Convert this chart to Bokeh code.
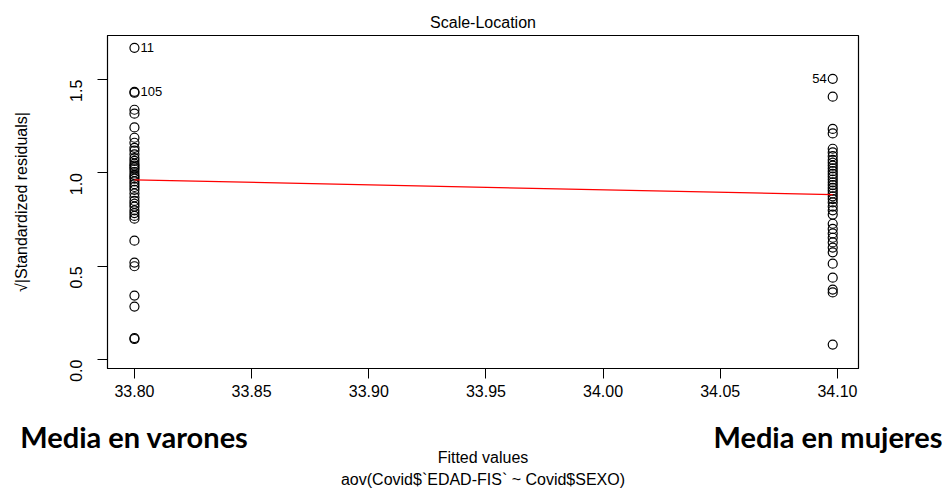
import numpy as np
from bokeh.plotting import figure
from bokeh.models import Range1d, FixedTicker, ColumnDataSource, LinearAxis, Title
from bokeh.core.properties import value
from bokeh.embed import file_html
from bokeh.resources import INLINE

# ---- data ----
fit_men = 33.80
fit_women = 34.098
men_vals = [1.671, 1.435, 1.430, 1.339, 1.318, 1.244, 1.189, 1.162, 1.135, 1.12,
            1.10, 1.08, 1.065, 1.05, 1.04, 1.03, 1.02, 1.005, 0.99, 0.98, 0.97,
            0.955, 0.94, 0.925, 0.91, 0.89, 0.87, 0.85, 0.835, 0.82, 0.80, 0.785,
            0.77, 0.755, 0.637, 0.52, 0.50, 0.343, 0.284, 0.115, 0.11]
women_vals = [1.505, 1.409, 1.236, 1.212, 1.13, 1.11, 1.09, 1.07, 1.055, 1.04,
              1.025, 1.01, 0.995, 0.98, 0.965, 0.95, 0.935, 0.92, 0.905, 0.89,
              0.875, 0.86, 0.842, 0.82, 0.80, 0.777, 0.728, 0.70, 0.676, 0.653,
              0.628, 0.60, 0.575, 0.514, 0.439, 0.375, 0.36, 0.08]
smooth_x = [33.80, 34.098]
smooth_y = [0.963, 0.884]
id_labels = ["11", "105", "54"]
id_x = [33.80, 33.80, 34.098]
id_y = [1.671, 1.435, 1.505]
x_ticks = [33.80, 33.85, 33.90, 33.95, 34.00, 34.05, 34.10]
y_ticks = [0.0, 0.5, 1.0, 1.5]
group_names = ["Media en varones", "Media en mujeres"]
group_pos = [fit_men, fit_women]

FONT = "Liberation Sans"

p = figure(width=942, height=492, output_backend="svg", toolbar_location=None,
           x_range=Range1d(33.7885, 34.109), y_range=Range1d(-0.048, 1.737),
           min_border_left=107, min_border_right=84, min_border_top=35,
           min_border_bottom=124, title="Scale-Location")
p.title.align = "center"
p.title.text_font = FONT
p.title.text_font_size = "16px"
p.title.text_font_style = "normal"
p.title.text_color = "black"
p.title.standoff = 9
p.background_fill_color = "white"
p.border_fill_color = "white"
p.outline_line_color = "black"
p.outline_line_width = 1.2
p.grid.visible = False

for ax in (p.xaxis[0], p.yaxis[0]):
    ax.axis_line_color = "black"
    ax.major_tick_out = 10
    ax.major_tick_in = 0
    ax.minor_tick_line_color = None
    ax.major_label_text_font = FONT
    ax.major_label_text_font_size = "16px"
    ax.major_label_text_color = "black"
    ax.major_tick_line_color = "black"

p.xaxis[0].ticker = FixedTicker(ticks=x_ticks)
p.xaxis[0].major_label_overrides = {t: f"{t:.2f}" for t in x_ticks}
p.xaxis[0].major_label_standoff = 6
p.yaxis[0].ticker = FixedTicker(ticks=y_ticks)
p.yaxis[0].major_label_overrides = {t: f"{t:.1f}" for t in y_ticks}
p.yaxis[0].major_label_orientation = np.pi / 2
p.yaxis[0].major_label_standoff = 21
p.yaxis[0].axis_label = "√|Standardized residuals|"
p.yaxis[0].axis_label_text_font = FONT
p.yaxis[0].axis_label_text_font_size = "16px"
p.yaxis[0].axis_label_text_font_style = "normal"
p.yaxis[0].axis_label_text_color = "black"
p.yaxis[0].axis_label_standoff = 32

# second bottom axis with the group names
gax = LinearAxis(ticker=FixedTicker(ticks=group_pos),
                 major_label_overrides={group_pos[0]: group_names[0],
                                        group_pos[1]: group_names[1]})
gax.axis_line_color = None
gax.major_tick_line_color = None
gax.minor_tick_line_color = None
gax.major_tick_out = 0
gax.major_tick_in = 0
gax.major_label_standoff = 19
gax.major_label_text_font = "Lato"
gax.major_label_text_font_size = "29px"
gax.major_label_text_font_style = "bold"
gax.major_label_text_color = "black"
gax.axis_label = "Fitted values"
gax.axis_label_text_font = FONT
gax.axis_label_text_font_size = "16px"
gax.axis_label_text_font_style = "normal"
gax.axis_label_text_color = "black"
gax.axis_label_standoff = -8
p.add_layout(gax, "below")

sub = Title(text="aov(Covid$`EDAD-FIS` ~ Covid$SEXO)", align="center",
            text_font=FONT, text_font_size="16px", text_font_style="normal",
            text_color="black", standoff=0, offset=0)
p.add_layout(sub, "below")

src = ColumnDataSource(dict(x=[fit_men] * len(men_vals) + [fit_women] * len(women_vals),
                            y=men_vals + women_vals))
p.scatter("x", "y", source=src, marker="circle", size=9, fill_color=None,
          line_color="black", line_width=1.2)
p.line(smooth_x, smooth_y, line_color="red", line_width=1.2)

p.text(x=id_x[:2], y=id_y[:2], text=id_labels[:2], x_offset=6,
       text_font=value(FONT), text_font_size="13px", text_baseline="middle",
       text_align="left", text_color="black")
p.text(x=id_x[2:], y=id_y[2:], text=id_labels[2:], x_offset=-6,
       text_font=value(FONT), text_font_size="13px", text_baseline="middle",
       text_align="right", text_color="black")

open("out.html", "w").write(file_html(p, INLINE))
